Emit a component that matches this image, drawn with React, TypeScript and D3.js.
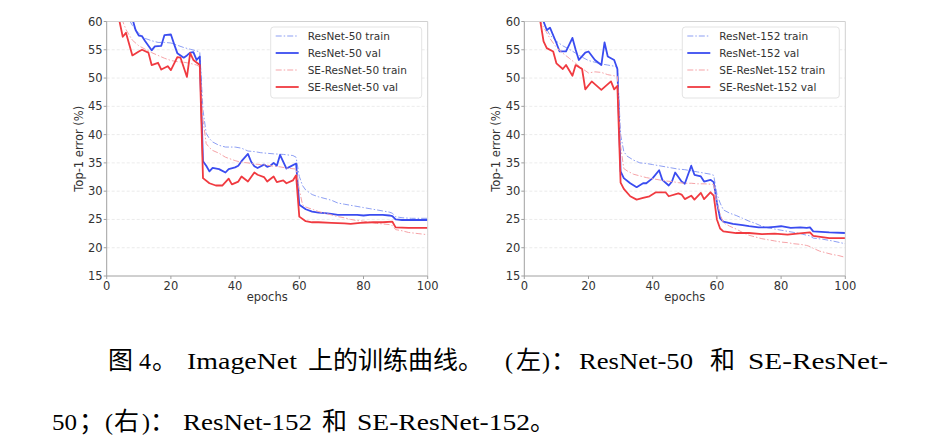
import React from 'react';
import * as d3 from 'd3';

// epochs vs top-1 error (%)
const resnet50Train: [number, number][] = [[6,62],[7,60.3],[8,59.3],[9,58.5],[10,57.9],[12,57],[14,56.6],[16,56.3],[18,56.3],[20,56.2],[22,55.8],[24,55.4],[26,55.1],[28,54.8],[29,54.6],[30,44.3],[31,40.2],[32,39.3],[33,38.7],[35,38.1],[37,37.8],[40,37.8],[42,37.6],[44,37.1],[46,37],[48,36.8],[50,36.7],[52,36.6],[55,36.5],[58,36.3],[59,36],[60,32.6],[61,31],[62,30.2],[64,29.4],[66,29],[68,28.7],[70,28.4],[72,27.9],[74,27.7],[76,27.5],[78,27.3],[80,27.1],[82,26.9],[84,26.7],[86,26.5],[88,26.3],[89,26.1],[90,25.5],[92,25.3],[95,25.2],[100,25.2]];
const resnet50Val: [number, number][] = [[7,62.5],[8,60.5],[9,58.5],[10,57.5],[11,57.4],[12,56.5],[14,54.9],[15,55.6],[17,55.7],[18,57.6],[20,57.7],[21,56],[22,54.4],[24,53.6],[25,54],[26,54.5],[27,54.6],[28,53.2],[29,53.8],[30,35.3],[31,34.5],[32,33.5],[33,34.1],[35,33.9],[37,33.3],[38,33.9],[40,34.2],[41,34.5],[42,35.3],[44,36.6],[45,35.2],[46,34.4],[47,34.1],[49,34.7],[50,34.3],[51,34.5],[52,35],[53,34.5],[54,36.4],[56,34],[57,34.3],[59,34.9],[60,27.6],[61,27.2],[62,26.8],[64,26.4],[66,26.2],[68,26.1],[70,26],[72,25.8],[75,25.8],[78,25.8],[80,25.7],[82,25.8],[84,25.8],[86,25.8],[88,25.7],[89,25.6],[90,25],[92,24.9],[95,24.9],[100,24.9]];
const seResnet50Train: [number, number][] = [[4,62.5],[5,60],[6,58.6],[7,57.6],[8,56.7],[10,55.7],[12,55.1],[14,54.5],[16,54],[18,53.5],[20,53.1],[22,52.9],[24,52.8],[26,52.6],[28,52.3],[29,52],[30,42.6],[31,38.4],[32,37.7],[33,37.2],[35,36.7],[37,36],[40,35.4],[42,35.1],[44,35],[46,34.8],[48,34.7],[50,34.6],[52,34.4],[54,34.3],[56,34.1],[59,33.9],[60,30.3],[61,27.6],[62,27.2],[64,26.8],[66,26.4],[68,26.1],[70,25.8],[72,25.5],[74,25.3],[76,25],[78,24.8],[80,24.7],[82,24.5],[84,24.3],[86,24.2],[88,24.1],[89,23.9],[90,23.2],[92,23],[94,22.7],[97,22.5],[100,22.3]];
const seResnet50Val: [number, number][] = [[3,62.5],[4,60],[5,57.3],[6,58],[8,54],[10,54.7],[11,55],[13,54.5],[14,52.3],[16,52.7],[17,51.5],[19,52.1],[20,51.4],[22,53.7],[23,53.6],[25,50.2],[26,54.4],[27,53.2],[29,52.3],[30,32.3],[32,31.4],[34,31],[36,31],[38,32.2],[39,31.2],[41,31.7],[42,32.6],[44,31.7],[46,33.3],[47,32.9],[49,32.5],[50,31.7],[52,32.6],[53,31.6],[55,31.9],[56,31.4],[58,31.9],[59,32.8],[60,25.5],[62,24.7],[64,24.5],[66,24.5],[70,24.4],[74,24.3],[76,24.2],[79,24.4],[83,24.5],[86,24.5],[89,24.6],[90,23.6],[94,23.5],[100,23.5]];

const resnet152Train: [number, number][] = [[5,62.5],[6,60],[7,58.6],[8,57.6],[10,56.5],[12,55.7],[14,55.1],[16,54.4],[18,53.7],[20,53.1],[22,52.8],[24,52.5],[26,52.3],[28,52.1],[29,51.9],[30,40],[31,37],[32,36.2],[34,35.5],[36,35],[38,34.9],[40,34.7],[42,34.5],[44,34.3],[46,34.1],[48,33.9],[50,33.8],[52,33.6],[54,33.4],[56,33.2],[58,33],[59,32.8],[60,29.5],[61,27.9],[62,26.7],[64,26.1],[66,25.7],[68,25.2],[70,24.7],[72,24.3],[74,23.8],[76,23.5],[78,23.3],[80,23.1],[82,22.9],[84,22.7],[86,22.5],[88,22.2],[89,22.1],[90,21.7],[93,21.5],[96,21.2],[100,20.7]];
const resnet152Val: [number, number][] = [[4,63],[6,60],[7,58.5],[8,58.9],[10,56.2],[11,54.7],[13,54.7],[15,57.1],[16,55],[17,53.2],[19,54.5],[20,54.7],[22,53.2],[24,52.3],[25,56.3],[26,53.8],[28,53.2],[29,51.6],[30,33.5],[31,32.3],[33,31.4],[35,30.7],[37,31.4],[38,31.4],[40,32.3],[42,33.7],[43,32],[45,31],[46,31.7],[47,33.3],[49,31.7],[50,31.3],[52,34.5],[53,32.9],[55,32.6],[56,31.7],[58,32],[59,31.6],[60,28],[61,25.2],[62,24.6],[65,24.2],[68,24],[70,23.8],[73,23.6],[76,23.6],[78,23.7],[80,23.8],[83,23.5],[86,23.6],[88,23.5],[89,23.6],[90,22.9],[95,22.7],[100,22.6]];
const seResnet152Train: [number, number][] = [[4,62.5],[5,60],[6,59],[7,58],[8,57],[10,55.4],[12,54.4],[14,53.5],[16,52.6],[18,51.7],[20,50.9],[22,51.1],[24,51],[26,50.6],[28,50.4],[29,50.3],[30,38],[31,34],[32,33.6],[34,33],[36,32.7],[38,32.4],[40,32.2],[42,32],[44,31.8],[46,31.7],[48,31.5],[50,31.4],[52,31.4],[54,31.3],[56,31.3],[59,31.2],[60,28],[61,26],[62,24.4],[64,23.8],[66,23.3],[68,22.7],[70,22.2],[72,21.9],[74,21.6],[76,21.4],[78,21.2],[80,21],[82,20.9],[84,20.7],[86,20.6],[88,20.4],[89,20.2],[90,19.9],[92,19.4],[94,19.1],[96,18.8],[98,18.6],[100,18.3]];
const seResnet152Val: [number, number][] = [[3,63],[5,60],[6,56.5],[7,55.3],[9,54.7],[10,52.6],[12,51.6],[13,52.3],[15,50.4],[16,52.3],[18,51.6],[19,48],[21,49.4],[24,47.9],[27,49.4],[28,48],[29,48.6],[30,31.5],[31,30.4],[33,29.1],[35,28.5],[37,28.8],[39,29.1],[41,29.8],[44,29.8],[45,29.1],[48,29.6],[49,29.4],[50,28.6],[52,29.2],[53,28.5],[55,29.7],[56,28.6],[58,29.8],[59,29.2],[60,25],[61,23.4],[62,22.9],[66,22.6],[70,22.6],[74,22.4],[78,22.5],[82,22.3],[85,22.5],[89,22.7],[90,22.1],[95,21.7],[100,21.7]];

const xTicks = [0, 20, 40, 60, 80, 100];
const yTicks = [15, 20, 25, 30, 35, 40, 45, 50, 55, 60];

const leftLabels = ['ResNet-50 train', 'ResNet-50 val', 'SE-ResNet-50 train', 'SE-ResNet-50 val'];
const rightLabels = ['ResNet-152 train', 'ResNet-152 val', 'SE-ResNet-152 train', 'SE-ResNet-152 val'];

// train = dash-dot thin & pale, val = solid
const styles = [
  { color: '#8d9ff3', width: 1, dash: '6,2,1.5,2' },
  { color: '#3a4cf0', width: 1.8, dash: null },
  { color: '#f5a3a7', width: 1, dash: '6,2,1.5,2' },
  { color: '#f03a40', width: 1.8, dash: null },
];

const tickFont = '"DejaVu Sans", sans-serif';

function Panel({ id, x0, series, labels, legendW }: { id: string; x0: number; series: [number, number][][]; labels: string[]; legendW: number }) {
  const top = 21.5, bottom = 276, w = 321;
  const x = d3.scaleLinear().domain([0, 100]).range([x0, x0 + w]);
  const y = d3.scaleLinear().domain([15, 60]).range([bottom, top]);
  const line = d3.line<[number, number]>().x(d => x(d[0])).y(d => y(d[1]));
  const lx = x0 + w - 6 - legendW, ly = 27;

  return (
    <g>
      <defs>
        <clipPath id={id}>
          <rect x={x0} y={top} width={w} height={bottom - top} />
        </clipPath>
      </defs>
      {yTicks.filter(t => t > 15 && t < 60).map(t => (
        <line key={t} x1={x0} x2={x0 + w} y1={y(t)} y2={y(t)} stroke="#e6e6e6" strokeWidth={0.8} strokeDasharray="3,2" />
      ))}
      <g clipPath={`url(#${id})`}>
        {series.map((s, i) => (
          <path key={i} d={line(s) || ''} fill="none" stroke={styles[i].color} strokeWidth={styles[i].width}
            strokeDasharray={styles[i].dash || undefined} strokeLinejoin="round" />
        ))}
      </g>
      {/* spines */}
      <line x1={x0} x2={x0 + w} y1={top} y2={top} stroke="#d0d0d0" />
      <line x1={x0 + w} x2={x0 + w} y1={top} y2={bottom} stroke="#d0d0d0" />
      <line x1={x0} x2={x0} y1={top} y2={bottom} stroke="#a0a0a0" />
      <line x1={x0} x2={x0 + w} y1={bottom} y2={bottom} stroke="#a0a0a0" />
      {yTicks.map(t => (
        <g key={t}>
          <line x1={x0 - 3} x2={x0} y1={y(t)} y2={y(t)} stroke="#a0a0a0" />
          <text x={x0 - 4} y={y(t) + 4} textAnchor="end" fontFamily={tickFont} fontSize={11.5} fill="#333">{t}</text>
        </g>
      ))}
      {xTicks.map(t => (
        <g key={t}>
          <line x1={x(t)} x2={x(t)} y1={bottom} y2={bottom + 3} stroke="#a0a0a0" />
          <text x={x(t)} y={290} textAnchor="middle" fontFamily={tickFont} fontSize={11.5} fill="#333">{t}</text>
        </g>
      ))}
      <text x={x(50)} y={301} textAnchor="middle" fontFamily={tickFont} fontSize={11.5} fill="#333">epochs</text>
      <text transform={`translate(${x0 - 24},${(top + bottom) / 2}) rotate(-90)`} textAnchor="middle"
        fontFamily={tickFont} fontSize={11.5} fill="#333">Top-1 error (%)</text>
      {/* legend */}
      <rect x={lx} y={ly} width={legendW} height={71} rx={3} fill="#fff" stroke="#dcdcdc" strokeWidth={0.8} />
      {labels.map((lab, i) => (
        <g key={lab}>
          <line x1={lx + 5} x2={lx + 28} y1={ly + 9 + i * 17} y2={ly + 9 + i * 17} stroke={styles[i].color}
            strokeWidth={styles[i].width} strokeDasharray={styles[i].dash || undefined} />
          <text x={lx + 37} y={ly + 13 + i * 17} fontFamily={tickFont} fontSize={10.5} fill="#333">{lab}</text>
        </g>
      ))}
    </g>
  );
}

const latin = '"Liberation Serif", "Times New Roman", serif';
const cjk = '"Noto Sans CJK SC", sans-serif';

// caption pieces: [text, x, cjk?, width]
const captionLine1: [string, number, boolean, number?][] = [
  ['图', 108, true], ['4', 139, false], ['。', 152, true], ['ImageNet', 187, false, 110],
  ['上的训练曲线。', 308, true], ['(', 505, false], ['左', 516, true], [')', 542, false], ['：', 551, true],
  ['ResNet-50', 579, false, 114], ['和', 710, true], ['SE-ResNet-', 748, false, 140],
];
const captionLine2: [string, number, boolean, number?][] = [
  ['50', 52, false, 25], ['；', 79, true], ['(', 105, false], ['右', 114, true], [')', 142, false], ['：', 150, true],
  ['ResNet-152', 183, false, 129], ['和', 322, true], ['SE-ResNet-152', 357, false, 173], ['。', 530, true],
];

function Caption({ parts, y }: { parts: [string, number, boolean, number?][]; y: number }) {
  return (
    <g>
      {parts.map(([t, px, isCjk, w], i) => (
        <text key={i} x={px} y={y} fontFamily={isCjk ? cjk : latin} fontSize={isCjk ? 25 : 24} fill="#000"
          textLength={w} lengthAdjust={w ? 'spacingAndGlyphs' : undefined}>{t}</text>
      ))}
    </g>
  );
}

export default function App() {
  return (
    <svg width={936} height={442} style={{ position: 'absolute', left: 0, top: 0, background: '#fff' }}>
      <rect width={936} height={442} fill="#fff" />
      <Panel id="clipL" x0={106.7} series={[resnet50Train, resnet50Val, seResnet50Train, seResnet50Val]} labels={leftLabels} legendW={151} />
      <Panel id="clipR" x0={524.3} series={[resnet152Train, resnet152Val, seResnet152Train, seResnet152Val]} labels={rightLabels} legendW={157} />
      <Caption parts={captionLine1} y={369} />
      <Caption parts={captionLine2} y={430} />
    </svg>
  );
}
